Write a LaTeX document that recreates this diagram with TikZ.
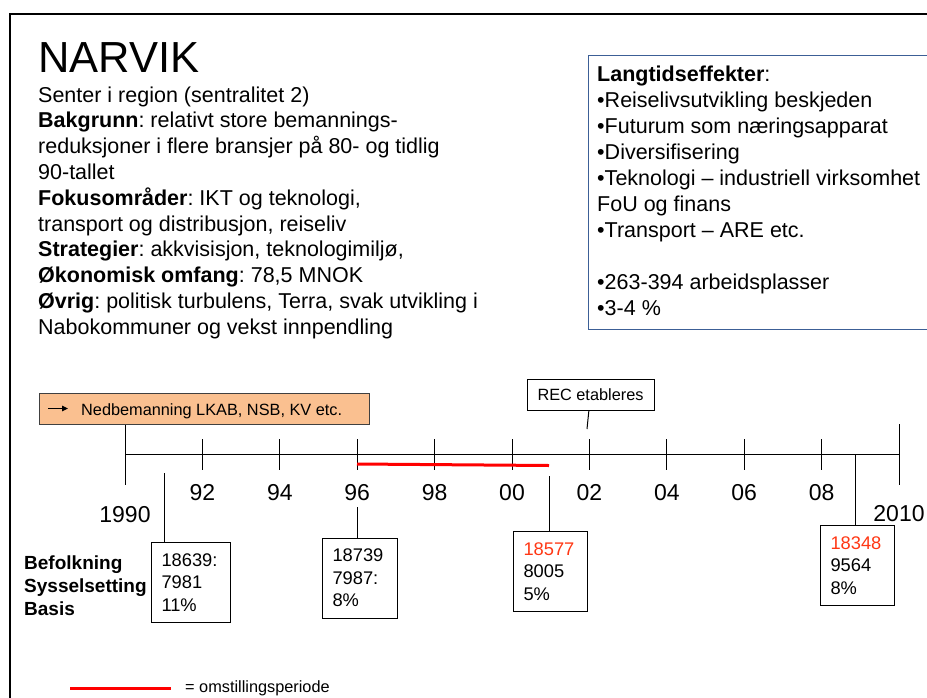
\documentclass[tikz,border=0pt]{standalone}
\usepackage{fontspec}
\setmainfont{Liberation Sans}
\usetikzlibrary{positioning,arrows.meta}
\definecolor{orangefill}{RGB}{250,192,144}
\definecolor{effectblue}{RGB}{60,95,150}
\definecolor{periodred}{RGB}{255,0,0}
\definecolor{numred}{RGB}{255,55,20}
\frenchspacing
\begin{document}
\begin{tikzpicture}[x=1pt,y=-1pt,
	line/.style={inner sep=0pt,anchor=base west,font=\fontsize{21.5}{25.8}\selectfont},
	year/.style={inner sep=0pt,anchor=base,font=\fontsize{23}{23}\selectfont},
	small/.style={inner sep=0pt,font=\fontsize{16.3}{16.3}\selectfont},
	rowlabel/.style={inner sep=0pt,anchor=base west,font=\bfseries\fontsize{19}{23}\selectfont},
	databox/.style={draw,line width=1pt,anchor=north west,align=left,minimum height=80pt,inner xsep=10pt,inner ysep=0pt,font=\fontsize{18.3}{22.5}\selectfont},
	tick/.style={line width=1pt}]
	\useasboundingbox (0,0) rectangle (927,697);
	\draw[line width=2pt] (10,720) -- (10,14) -- (940,14);
	\node[line,font=\fontsize{43.5}{43.5}\selectfont] (title) at (38,72) {NARVIK};
	\foreach \txt [count=\i] in {{Senter i region (sentralitet 2)},
		{\textbf{Bakgrunn}: relativt store bemannings-},
		{reduksjoner i flere bransjer på 80- og tidlig},
		{90-tallet},
		{\textbf{Fokusområder}: IKT og teknologi,},
		{transport og distribusjon, reiseliv},
		{\textbf{Strategier}: akkvisisjon, teknologimiljø,},
		{\textbf{Økonomisk omfang}: 78,5 MNOK},
		{\textbf{Øvrig}: politisk turbulens, Terra, svak utvikling i},
		{Nabokommuner og vekst innpendling}}
		\node[line] (body\i) at (38,{102+25.8*(\i-1)}) {\txt};
	% langtidseffekter
	\node[draw=effectblue,line width=1pt,anchor=north west,minimum width=360pt,minimum height=274pt] (effects) at (588,55) {};
	\foreach \r/\txt in {0/{\textbf{Langtidseffekter}:},1/{\textbullet Reiselivsutvikling beskjeden},
		2/{\textbullet Futurum som næringsapparat},3/{\textbullet Diversifisering},
		4/{\textbullet Teknologi -- industriell virksomhet},5/{FoU og finans},
		6/{\textbullet Transport -- ARE etc.},8/{\textbullet 263-394 arbeidsplasser},9/{\textbullet 3-4 \%}}
		\node[line] (eff\r) at (597,{81+26*\r}) {\txt};
	% timeline
	\node[draw=black!75,fill=orangefill,line width=1pt,anchor=north west,minimum width=330pt,minimum height=31pt,inner sep=0pt] (cutback) at (39,393) {};
	\coordinate (arrA) at (48,408.5);
	\coordinate (arrB) at (68,408.5);
	\draw[line width=1pt,-{Triangle[length=6pt,width=5.5pt]}] (arrA) -- (arrB);
	\node[small,anchor=base west] (cutbacktxt) at (81,415) {Nedbemanning LKAB, NSB, KV etc.};
	\node[draw,line width=1pt,minimum width=127pt,minimum height=31pt,small] (rec) at (590.5,394.5) {REC etableres};
	\coordinate (recend) at (587,429);
	\draw[tick] (rec) -- (recend);
	\foreach \i in {0,...,10} \coordinate (t\i) at ({125+77.4*\i},454);
	\draw[tick] (t0) -- (t10);
	\foreach \i in {1,...,9} \draw[tick] ([yshift=15pt]t\i) -- ([yshift=-16pt]t\i);
	\draw[tick] (cutback.south -| t0) -- ([yshift=-31pt]t0);
	\draw[tick] ([yshift=30pt]t10) -- ([yshift=-31pt]t10);
	\foreach \i/\yr in {1/92,2/94,3/96,4/98,5/00,6/02,7/04,8/06,9/08}
		\node[year] (yr\i) at ([yshift=-46pt]t\i) {\yr};
	\node[year] (yr0) at ([yshift=-68pt]t0) {1990};
	\node[year] (yr10) at ([yshift=-67pt]t10) {2010};
	\coordinate (pstart) at (357,464);
	\coordinate (pend) at (549,465.5);
	\draw[periodred,line width=3pt] (pstart) -- (pend);
	% data boxes
	\node[databox,text width=59pt] (pop90) at (151,542) {18639:\\7981\\11\%};
	\node[databox,text width=55pt] (pop96) at (322,537.5) {18739\\7987:\\8\%};
	\node[databox,text width=54pt] (pop01) at (513,531) {\textcolor{numred}{18577}\\8005\\5\%};
	\node[databox,text width=54pt] (pop09) at (820,525) {\textcolor{numred}{18348}\\9564\\8\%};
	\coordinate (c90) at (164,473);
	\coordinate (c96) at (357,507);
	\coordinate (c01) at (549,476);
	\coordinate (c09) at (855,454);
	\foreach \c/\b in {c90/pop90,c96/pop96,c01/pop01,c09/pop09}
		\draw[tick] (\c) -- (\c |- \b.north);
	\foreach \r/\txt in {0/Befolkning,1/Sysselsetting,2/Basis}
		\node[rowlabel] (row\r) at (24,{569+23*\r}) {\txt};
	% legend
	\coordinate (legA) at (70,688);
	\coordinate (legB) at (171,688);
	\draw[periodred,line width=3pt] (legA) -- (legB);
	\node[small,anchor=base west] (legtxt) at (185,692.5) {= omstillingsperiode};
\end{tikzpicture}
\end{document}
